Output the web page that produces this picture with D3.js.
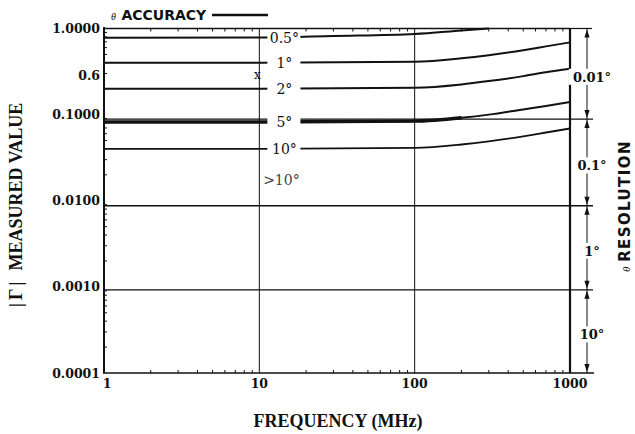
<!DOCTYPE html>
<html><head><meta charset="utf-8">
<script src="https://cdn.jsdelivr.net/npm/d3@7"></script>
<style>body{margin:0;background:#fff} svg{display:block}</style>
</head><body><svg id="c" width="635" height="434"></svg>
<script>
// ---- data ----
const freqs   = [1, 10, 100, 200, 300, 500, 700, 1000];
const freqs05 = [1, 10, 30, 100, 200, 300];
const acc05   = [0.78, 0.786, 0.818, 0.863, 0.948, 1.0];
const acc1    = [0.40, 0.40, 0.41, 0.45, 0.49, 0.56, 0.62, 0.69];
const acc2    = [0.20, 0.20, 0.205, 0.224, 0.245, 0.28, 0.31, 0.34];
const acc5    = [0.082, 0.082, 0.084, 0.092, 0.100, 0.115, 0.126, 0.14];
const acc10   = [0.040, 0.040, 0.041, 0.045, 0.049, 0.056, 0.062, 0.069];
const accLabels = ["0.5°", "1°", "2°", "5°", "10°"];
const xTickValues = [1, 10, 100, 1000];
const xTickLabels = ["1", "10", "100", "1000"];
const yTickValues = [1, 0.285, 0.1, 0.01, 0.001, 0.0001];
const yTickLabels = ["1.0000", "0.6", "0.1000", "0.0100", "0.0010", "0.0001"];
const resBounds = [1, 0.0887, 0.00875, 0.000923, 0.0001];
const resLabels = ["0.01°", "0.1°", "1°", "10°"];
const gt10Level = 0.0174;
const markPoint = [9.7, 0.285];

// ---- scales ----
const svg = d3.select("#c");
const x = d3.scaleLog().domain([1, 1000]).range([104, 570]);
const y = d3.scaleLog().domain([0.0001, 1]).range([373, 28.5]);
const INK = "#111";
const serif = "'DejaVu Serif', serif";
const tserif = "'Liberation Serif', 'Times New Roman', serif";
const sans = "'DejaVu Sans', sans-serif";

// gridlines at 10, 100
[10, 100].forEach(f => {
  svg.append("line").attr("x1", x(f)).attr("x2", x(f)).attr("y1", y(1)).attr("y2", 373)
    .attr("stroke", INK).attr("stroke-width", 1);
});

// minor ticks
const minorX = [];
[1, 10, 100].forEach(k => { for (let m = 2; m <= 9; m++) minorX.push(m * k); });
svg.selectAll(".mxb").data(minorX).enter().append("line")
  .attr("x1", d => x(d)).attr("x2", d => x(d)).attr("y1", 373).attr("y2", 370)
  .attr("stroke", INK).attr("stroke-width", 1);
svg.selectAll(".mxt").data(minorX).enter().append("line")
  .attr("x1", d => x(d)).attr("x2", d => x(d)).attr("y1", y(1)).attr("y2", y(1) + 3)
  .attr("stroke", INK).attr("stroke-width", 1);
const minorY = [];
[0.0001, 0.001, 0.01, 0.1].forEach(k => { for (let m = 2; m <= 9; m++) minorY.push(m * k); });
svg.selectAll(".my").data(minorY).enter().append("line")
  .attr("x1", 104).attr("x2", 107).attr("y1", d => y(d)).attr("y2", d => y(d))
  .attr("stroke", INK).attr("stroke-width", 1);

// resolution boundary lines
resBounds.slice(1, 4).forEach(v => {
  svg.append("line").attr("x1", 104).attr("x2", 593).attr("y1", y(v)).attr("y2", y(v))
    .attr("stroke", INK).attr("stroke-width", 1.3);
});
svg.append("line").attr("x1", 570).attr("x2", 592).attr("y1", y(1)).attr("y2", y(1))
  .attr("stroke", INK).attr("stroke-width", 1.2);

// frame
svg.append("line").attr("x1", 104).attr("x2", 104).attr("y1", 27).attr("y2", 373)
  .attr("stroke", INK).attr("stroke-width", 2);
svg.append("line").attr("x1", 104).attr("x2", 570).attr("y1", y(1)).attr("y2", y(1))
  .attr("stroke", INK).attr("stroke-width", 1.5);
svg.append("line").attr("x1", 103).attr("x2", 594).attr("y1", 373).attr("y2", 373)
  .attr("stroke", INK).attr("stroke-width", 1.5);
svg.append("line").attr("x1", 570).attr("x2", 570).attr("y1", y(1)).attr("y2", 373)
  .attr("stroke", INK).attr("stroke-width", 2.2);

// curves
const line = d3.line().x(d => x(d[0])).y(d => y(d[1])).curve(d3.curveMonotoneX);
const series = [
  { f: freqs05, v: acc05, w: 2 },
  { f: freqs, v: acc1, w: 2 },
  { f: freqs, v: acc2, w: 2 },
  { f: freqs, v: acc5, w: 2 },
  { f: freqs, v: acc10, w: 1.8 }
];
series.forEach(s => {
  const pts = s.f.map((f, i) => [f, s.v[i]]);
  svg.append("path").attr("d", line(pts)).attr("fill", "none")
    .attr("stroke", INK).attr("stroke-width", s.w);
});
// thick early part of the 5° curve
{
  const pts = freqs.map((f, i) => [f, acc5[i]]).filter(d => d[0] <= 200);
  svg.append("path").attr("d", line(pts)).attr("fill", "none")
    .attr("stroke", INK).attr("stroke-width", 3.4);
}

// curve labels
const labX = x(14.5);
series.forEach((s, i) => {
  const ly = y(s.v[1]);
  svg.append("rect").attr("x", labX - 17).attr("y", ly - 7).attr("width", 33).attr("height", 14)
    .attr("fill", "#fff");
  svg.append("text").attr("x", labX).attr("y", ly + 5).attr("text-anchor", "middle")
    .attr("font-family", serif).attr("font-size", 14).attr("fill", INK).text(accLabels[i]);
});
svg.append("text").attr("x", labX - 3).attr("y", y(gt10Level) + 5).attr("text-anchor", "middle")
  .attr("font-family", serif).attr("font-size", 14).attr("fill", "#444").text(">10°");
svg.append("text").attr("x", x(markPoint[0])).attr("y", y(markPoint[1]) + 4).attr("text-anchor", "middle")
  .attr("font-family", serif).attr("font-size", 12).attr("fill", INK).text("x");

// tick labels
yTickValues.forEach((v, i) => {
  svg.append("text").attr("x", 100).attr("y", y(v) + 4.5).attr("text-anchor", "end")
    .attr("font-family", serif).attr("font-weight", "bold").attr("font-size", 12.5)
    .attr("fill", INK).text(yTickLabels[i]);
});
xTickValues.forEach((v, i) => {
  svg.append("text").attr("x", x(v) + (i === 0 ? 3 : 0)).attr("y", 388).attr("text-anchor", "middle")
    .attr("font-family", serif).attr("font-weight", "bold").attr("font-size", 12.5)
    .attr("fill", INK).text(xTickLabels[i]);
});

// resolution arrows
const AX = 587;
svg.append("line").attr("x1", AX).attr("x2", AX).attr("y1", y(1)).attr("y2", 373)
  .attr("stroke", INK).attr("stroke-width", 1);
for (let i = 0; i < resLabels.length; i++) {
  const t = y(resBounds[i]) + 1, b = y(resBounds[i + 1]) - 1;
  svg.append("path").attr("d", `M${AX},${t} L${AX - 2.6},${t + 8} L${AX + 2.6},${t + 8} Z`).attr("fill", INK);
  svg.append("path").attr("d", `M${AX},${b} L${AX - 2.6},${b - 8} L${AX + 2.6},${b - 8} Z`).attr("fill", INK);
  const my = (t + b) / 2 + 3;
  const w = resLabels[i].length * 8.5 + 2;
  svg.append("rect").attr("x", 591 - w / 2).attr("y", my - 8).attr("width", w).attr("height", 16).attr("fill", "#fff");
  svg.append("text").attr("x", 592).attr("y", my + 5).attr("text-anchor", "middle")
    .attr("font-family", serif).attr("font-weight", "bold").attr("font-size", 13)
    .attr("fill", INK).text(resLabels[i]);
}

// titles
const tA = svg.append("text").attr("x", 111).attr("y", 19.5).attr("fill", INK);
tA.append("tspan").attr("font-family", tserif).attr("font-style", "italic").attr("font-size", 10).text("θ ");
tA.append("tspan").attr("font-family", sans).attr("font-weight", "bold").attr("font-size", 14).attr("dx", 3).text("ACCURACY");
svg.append("line").attr("x1", 212).attr("x2", 268).attr("y1", 15).attr("y2", 15)
  .attr("stroke", INK).attr("stroke-width", 2.6);

const tR = svg.append("text").attr("transform", "translate(630,272) rotate(-90)").attr("fill", INK);
tR.append("tspan").attr("font-family", tserif).attr("font-style", "italic").attr("font-size", 11).text("θ ");
tR.append("tspan").attr("font-family", sans).attr("font-weight", "bold").attr("font-size", 15)
  .attr("letter-spacing", 1.4).attr("dx", 2).text("RESOLUTION");

const tY = svg.append("text").attr("transform", "translate(22,307) rotate(-90)").attr("fill", INK)
  .attr("font-family", tserif).attr("font-weight", "bold").attr("font-size", 18);
tY.append("tspan").attr("letter-spacing", 3).text("|Γ|");
tY.append("tspan").attr("dx", 8).text("MEASURED VALUE");

svg.append("text").attr("x", 338).attr("y", 427).attr("text-anchor", "middle").attr("fill", INK)
  .attr("font-family", tserif).attr("font-weight", "bold").attr("font-size", 18).text("FREQUENCY (MHz)");
</script></body></html>
